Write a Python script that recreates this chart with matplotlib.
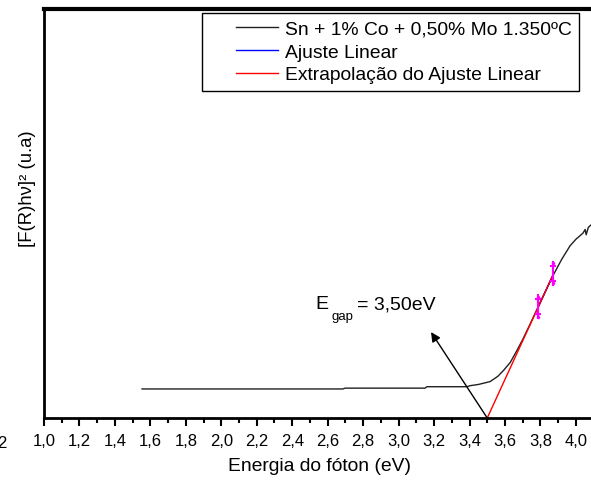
import matplotlib
matplotlib.use("Agg")
import matplotlib.pyplot as plt
from matplotlib.legend_handler import HandlerLine2D
import numpy as np

plt.rcParams['font.family'] = ['Liberation Sans', 'DejaVu Sans']

# Measured spectrum: photon energy (eV) vs [F(R)hv]^2 (arbitrary units)
energy = [1.553, 2.686, 2.698, 3.149, 3.160, 3.386, 3.403, 3.45, 3.516,
          3.56, 3.591, 3.63, 3.666, 3.70, 3.74, 3.78, 3.83, 3.873, 3.92,
          3.967, 4.0, 4.040, 4.052, 4.058, 4.070, 4.085]
signal = [0.071, 0.071, 0.073, 0.073, 0.0765, 0.0765, 0.079, 0.082, 0.089,
          0.102, 0.116, 0.136, 0.164, 0.192, 0.228, 0.265, 0.311, 0.350,
          0.388, 0.421, 0.437, 0.452, 0.461, 0.448, 0.466, 0.472]

# Linear fit region and its extrapolation down to the energy axis
fit_x = [3.788, 3.872]
fit_y = [0.272, 0.351]
extrap_x = [3.50, 3.873]
extrap_y = [0.0, 0.352]
marker_x = [3.788, 3.872]
marker_lo = [0.244, 0.325]
marker_hi = [0.301, 0.382]

e_gap = 3.50
xticks = np.round(np.arange(1.0, 4.01, 0.2), 1)

fig = plt.figure(figsize=(5.91, 4.85), dpi=100)
ax = fig.add_axes([44 / 591, 66 / 485, 547 / 591, 409 / 485])

ax.plot(energy, signal, color='#202020', lw=1.0,
        label='Sn + 1% Co + 0,50% Mo 1.350ºC')
ax.plot(fit_x, fit_y, color='blue', lw=1.0, label='Ajuste Linear')
ax.plot(extrap_x, extrap_y, color='red', lw=1.0,
        label='Extrapolação do Ajuste Linear')

# Fit-range markers
for mx, lo, hi in zip(marker_x, marker_lo, marker_hi):
    ax.plot([mx, mx], [lo, hi], color='#ff00ff', lw=1.5)
    ax.plot([mx, mx], [lo + 0.01, hi - 0.01], ls='none', marker='+',
            color='#ff00ff', ms=5, mew=1.5)
    ax.plot([mx, mx], [lo + 0.004, hi - 0.004], ls='none', marker='o',
            color='#ff00ff', ms=2.5, mew=0)

ax.set_xlim(1.0, 1.0 + 547 / 177.3)
ax.set_ylim(0, 1.0)

ax.set_xticks(xticks)
ax.set_xticklabels([f"{t:.1f}".replace('.', ',') for t in xticks], fontsize=12)
ax.set_xticks(np.arange(1.1, 4.09, 0.2), minor=True)
ax.tick_params(axis='x', which='major', direction='out', length=6, width=1.5, pad=5)
ax.tick_params(axis='x', which='minor', direction='out', length=3.5, width=1.5)
ax.set_yticks([])

ax.spines['right'].set_visible(False)
ax.spines['top'].set_linewidth(3)
ax.spines['left'].set_linewidth(2)
ax.spines['bottom'].set_linewidth(2)

fig.text(320 / 591, 1 - 467 / 485, 'Energia do fóton (eV)', fontsize=13.9,
         ha='center', va='center')
fig.text(27 / 591, 1 - 189 / 485, '[F(R)hν]² (u.a)', fontsize=13.3,
         ha='center', va='center', rotation=90)

# Band gap annotation arrow
ax.annotate('', xy=(3.183, 0.210), xytext=(e_gap, 0.0),
            arrowprops=dict(arrowstyle='-|>', color='black', lw=1.0,
                            mutation_scale=14, shrinkA=0, shrinkB=0))
ax.text(2.528, 0.279, 'E', fontsize=14, ha='left', va='center')
ax.text(2.624, 0.249, 'gap', fontsize=9.5, ha='left', va='center')
ax.text(2.765, 0.279, '= 3,50eV', fontsize=14, ha='left', va='center')

fs_leg = 13.9
handler = HandlerLine2D(marker_pad=0, xpad=1.38)
leg = ax.legend(loc='upper left', bbox_to_anchor=(158 / 547, 0.990),
                fontsize=fs_leg, frameon=True, fancybox=False,
                edgecolor='black', framealpha=1, borderpad=0.38,
                handlelength=3.55, handletextpad=0.36, labelspacing=0.27,
                borderaxespad=0,
                handler_map={matplotlib.lines.Line2D: handler})
leg.get_frame().set_linewidth(1.0)

fig.text(-3 / 591, 1 - 444 / 485, '2', fontsize=12, ha='left', va='center')

fig.savefig('out.png', dpi=100)
